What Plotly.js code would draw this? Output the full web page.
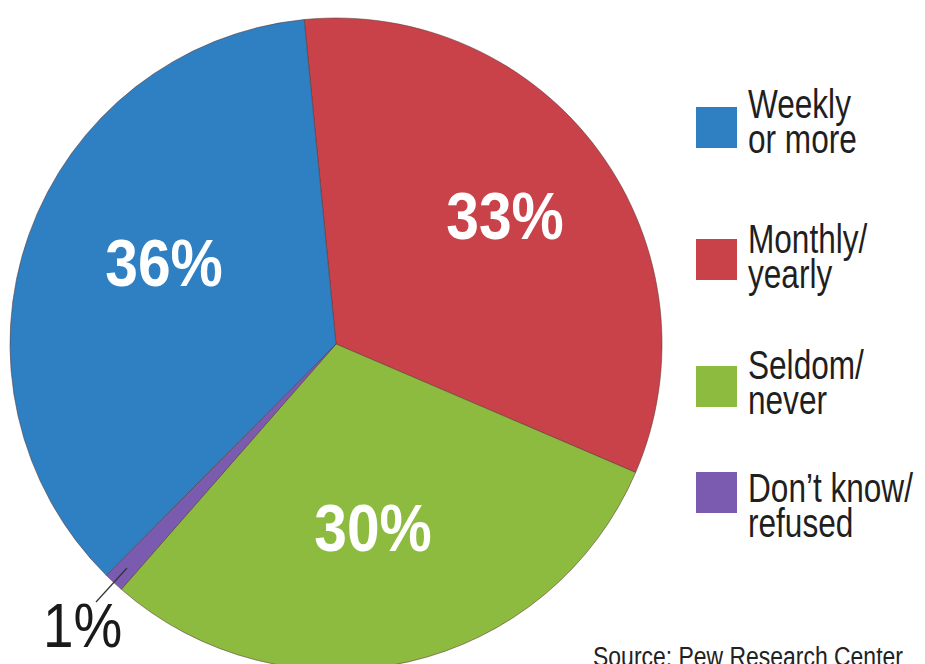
<!DOCTYPE html>
<html>
<head>
<meta charset="utf-8">
<script src="https://cdn.plot.ly/plotly-3.0.1.min.js"></script>
<style>
html, body { margin: 0; padding: 0; background: #ffffff; overflow: hidden; width: 925px; height: 664px; }
#chart { width: 925px; height: 690px; }
</style>
</head>
<body>
<div id="chart"></div>
<script>
// ---- data ----
const categories = ["Monthly/\nyearly", "Seldom/\nnever", "Don\u2019t know/\nrefused", "Weekly\nor more"];
const values = [33, 30, 1, 36];
const colors = ["#C9424A", "#8DBB3F", "#7B5BB0", "#2E80C3"];
const legendOrder = [3, 0, 1, 2];
const sourceText = "Source: Pew Research Center";

// ---- layout constants (pixels) ----
const W = 925, H = 690;
const px = x => x / W;
const py = y => 1 - y / H;
const pieBox = { x0: 10, x1: 662, y0: 18, y1: 670 };
const bigLabelPos = [[505, 216], [373, 528], null, [164, 263]];
const smallLabel = { x: 82, y: 625, lineFrom: [96, 602], lineTo: [127, 568] };
const legendSquareTop = [107, 239, 366, 472];
const legendTextCenter = [104, 239, 365, 488];
const fam = '"Liberation Sans", Arial, sans-serif';

const trace = {
  type: 'pie',
  labels: categories.map(c => c.replace('\n', ' ')),
  values: values,
  sort: false,
  direction: 'clockwise',
  rotation: -5.6,
  marker: { colors: colors, line: { color: 'rgba(90,55,55,0.55)', width: 1 } },
  textinfo: 'none',
  hoverinfo: 'label+percent',
  domain: { x: [px(pieBox.x0), px(pieBox.x1)], y: [py(pieBox.y1), py(pieBox.y0)] },
  showlegend: false
};

const annotations = [];
const annScale = [];
const shapes = [];
function addAnn(a, sx) { annotations.push(a); annScale.push(sx); }

values.forEach((v, i) => {
  const p = bigLabelPos[i];
  if (!p) return;
  addAnn({
    xref: 'paper', yref: 'paper', x: px(p[0]), y: py(p[1]),
    xanchor: 'center', yanchor: 'middle', showarrow: false,
    text: v + '%',
    font: { family: fam, size: 66, color: '#ffffff', weight: 'bold' }
  }, 0.89);
});
// small slice label with leader line
const smallIdx = values.indexOf(Math.min(...values));
addAnn({
  xref: 'paper', yref: 'paper', x: px(smallLabel.x), y: py(smallLabel.y),
  xanchor: 'center', yanchor: 'middle', showarrow: false,
  text: values[smallIdx] + '%',
  font: { family: fam, size: 63, color: '#1a1a1a' }
}, 0.87);
shapes.push({
  type: 'line', xref: 'paper', yref: 'paper',
  x0: px(smallLabel.lineFrom[0]), y0: py(smallLabel.lineFrom[1]),
  x1: px(smallLabel.lineTo[0]), y1: py(smallLabel.lineTo[1]),
  line: { color: '#333333', width: 1.2 }
});

// custom legend
legendOrder.forEach((ci, k) => {
  const top = legendSquareTop[k];
  shapes.push({
    type: 'rect', xref: 'paper', yref: 'paper',
    x0: px(696), x1: px(737), y0: py(top + 41), y1: py(top),
    fillcolor: colors[ci], line: { width: 0 }
  });
  const lines = categories[ci].split('\n');
  lines.forEach((t, j) => {
    addAnn({
      xref: 'paper', yref: 'paper', x: px(746), y: py(legendTextCenter[k] + j * 35),
      xanchor: 'left', yanchor: 'middle', showarrow: false,
      text: t,
      font: { family: fam, size: 41, color: '#1f1f1f' }
    }, 0.77);
  });
});

addAnn({
  xref: 'paper', yref: 'paper', x: px(591), y: py(657),
  xanchor: 'left', yanchor: 'middle', showarrow: false,
  text: sourceText,
  font: { family: fam, size: 27, color: '#222222' }
}, 0.85);

const layout = {
  width: W, height: H,
  margin: { l: 0, r: 0, t: 0, b: 0, pad: 0 },
  paper_bgcolor: '#ffffff',
  plot_bgcolor: '#ffffff',
  showlegend: false,
  annotations: annotations,
  shapes: shapes
};

Plotly.newPlot('chart', [trace], layout, { displayModeBar: false, staticPlot: true }).then(gd => {
  // condense the text horizontally (narrow typeface look)
  gd.querySelectorAll('.main-svg g.annotation').forEach(g => {
    const i = +g.getAttribute('data-index');
    const t = g.querySelector('text.annotation-text');
    if (!t || !annScale[i]) return;
    t.style.transformBox = 'fill-box';
    t.style.transformOrigin = annotations[i].xanchor === 'left' ? 'left center' : 'center center';
    t.style.transform = 'scaleX(' + annScale[i] + ')';
  });
});
</script>
</body>
</html>
